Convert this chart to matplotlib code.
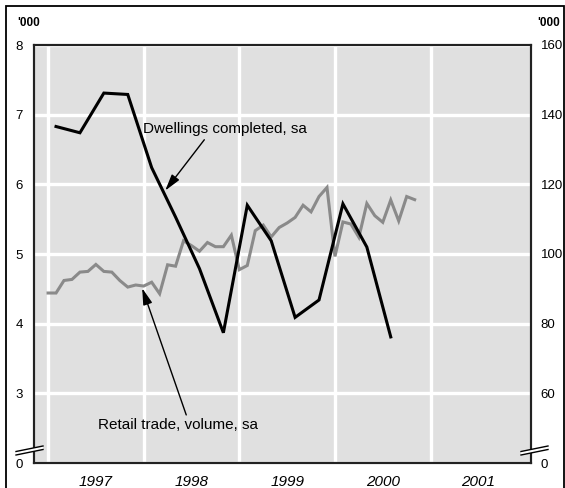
import numpy as np
import matplotlib
matplotlib.use('Agg')
import matplotlib.pyplot as plt
from matplotlib.patches import Rectangle, Polygon
from matplotlib.lines import Line2D

plt.rcParams['font.family'] = ['Liberation Sans', 'DejaVu Sans']

# Woningen opgeleverd, per kwartaal ('000), eerste kwartaal 1997 t/m derde kwartaal 2000
woningen = [6.83, 6.74, 7.31, 7.29, 6.24, 5.53, 4.79, 3.87, 5.70, 5.19, 4.09, 4.34, 5.72, 5.10, 3.81]
# Detailhandel volume, per maand, januari 1997 t/m november 2000
detailhandel = [88.8, 88.8, 92.4, 92.7, 94.8, 95.0, 97.0, 95.0, 94.8, 92.4, 90.5, 91.1,
                90.8, 91.9, 88.6, 96.9, 96.5, 103.8, 102.4, 100.8, 103.3, 102.1, 102.1, 105.4,
                95.5, 96.7, 106.7, 108.3, 104.9, 107.6, 108.9, 110.5, 114.0, 112.1, 116.5, 119.1,
                99.3, 109.2, 108.6, 104.8, 114.5, 111.0, 109.1, 115.5, 109.5, 116.5, 115.6]
jaren = [1997, 1998, 1999, 2000, 2001]
links_ticks = [2, 3, 4, 5, 6, 7, 8]
links_labels = ['0', '3', '4', '5', '6', '7', '8']
rechts_ticks = [40, 60, 80, 100, 120, 140, 160]
rechts_labels = ['0', '60', '80', '100', '120', '140', '160']

# kwartaalcijfers op de middelste maand, maandcijfers op het begin van de maand
x_kwartaal = 1997 + (1 + 3 * np.arange(len(woningen))) / 12
x_maand = 1997 + np.arange(len(detailhandel)) / 12

W, H = 565, 488
fig = plt.figure(figsize=(W / 100, H / 100), dpi=100)
ax = fig.add_axes([34 / W, 25 / H, (531 - 34) / W, (463 - 45) / H])
ax2 = ax.twinx()

ax.set_xlim(1996.853, 2002.05)
ax.set_ylim(2, 8)
ax2.set_ylim(40, 160)

ax.set_facecolor('#e0e0e0')
ax.set_axisbelow(True)
ax.grid(True, color='white', linewidth=2.4)

# detailhandel op de rechteras, onder de woninglijn
ax.plot(x_maand, detailhandel, color='#8a8a8a', linewidth=2.2, transform=ax2.transData,
        solid_joinstyle='miter')
ax.plot(x_kwartaal, woningen, color='black', linewidth=2.2, solid_joinstyle='miter')

ax.set_xticks(jaren)
ax.set_xticklabels([])
ax.set_xticks([j + 0.5 for j in jaren], minor=True)
ax.set_xticklabels([str(j) for j in jaren], minor=True, fontsize=11, style='italic')
ax.tick_params(axis='x', which='both', length=0, pad=9)

ax.set_yticks(links_ticks)
ax.set_yticklabels(links_labels, fontsize=9.5)
ax.tick_params(axis='y', length=0, pad=8)
ax2.set_yticks(rechts_ticks)
ax2.set_yticklabels(rechts_labels, fontsize=9.5)
ax2.tick_params(axis='y', length=0, pad=7)

for a in (ax, ax2):
    for s in a.spines.values():
        s.set_color('#222222')
        s.set_linewidth(1.5)

# toelichtingen met pijlen
ax.text(1997.995, 6.79, 'Dwellings completed, sa', fontsize=11, va='center', ha='left')
ax.annotate('', xy=(1998.225, 5.91), xytext=(1998.634, 6.64),
            arrowprops=dict(arrowstyle='-|>,head_length=1.0,head_width=0.28',
                            color='black', lw=1, shrinkA=0, shrinkB=0))
ax.text(1997.524, 2.54, 'Retail trade, volume, sa', fontsize=11, va='center', ha='left')
ax.annotate('', xy=(1997.984, 4.51), xytext=(1998.445, 2.69),
            arrowprops=dict(arrowstyle='-|>,head_length=1.0,head_width=0.28',
                            color='black', lw=1, shrinkA=0, shrinkB=0))

# eenheden boven de assen
fig.text(17 / W, 1 - 23 / H, "'000", fontsize=8.5, fontweight='bold', va='center', ha='left')
fig.text(537 / W, 1 - 23 / H, "'000", fontsize=8.5, fontweight='bold', va='center', ha='left')


def px(x, y):
    return (x / W, 1 - y / H)


# asbreuken links en rechts
for x0, x1 in [(16, 43), (521, 548)]:
    band = Polygon([px(x0, 451.5), px(x1, 446), px(x1, 449.5), px(x0, 455)],
                   closed=True, transform=fig.transFigure, facecolor='white',
                   edgecolor='none', zorder=5)
    fig.patches.append(band)
    for dy in (0, 3.5):
        a, b = px(x0, 451.5 + dy), px(x1, 446 + dy)
        fig.lines.append(Line2D([a[0], b[0]], [a[1], b[1]], transform=fig.transFigure,
                                color='black', linewidth=1, zorder=6))

# kader om de figuur
fig.patches.append(Rectangle((6 / W, -0.05), (564 - 6) / W, 1.05 - 6 / H,
                             transform=fig.transFigure, fill=False,
                             edgecolor='black', linewidth=1.3))

plt.savefig('out.png', dpi=100)
